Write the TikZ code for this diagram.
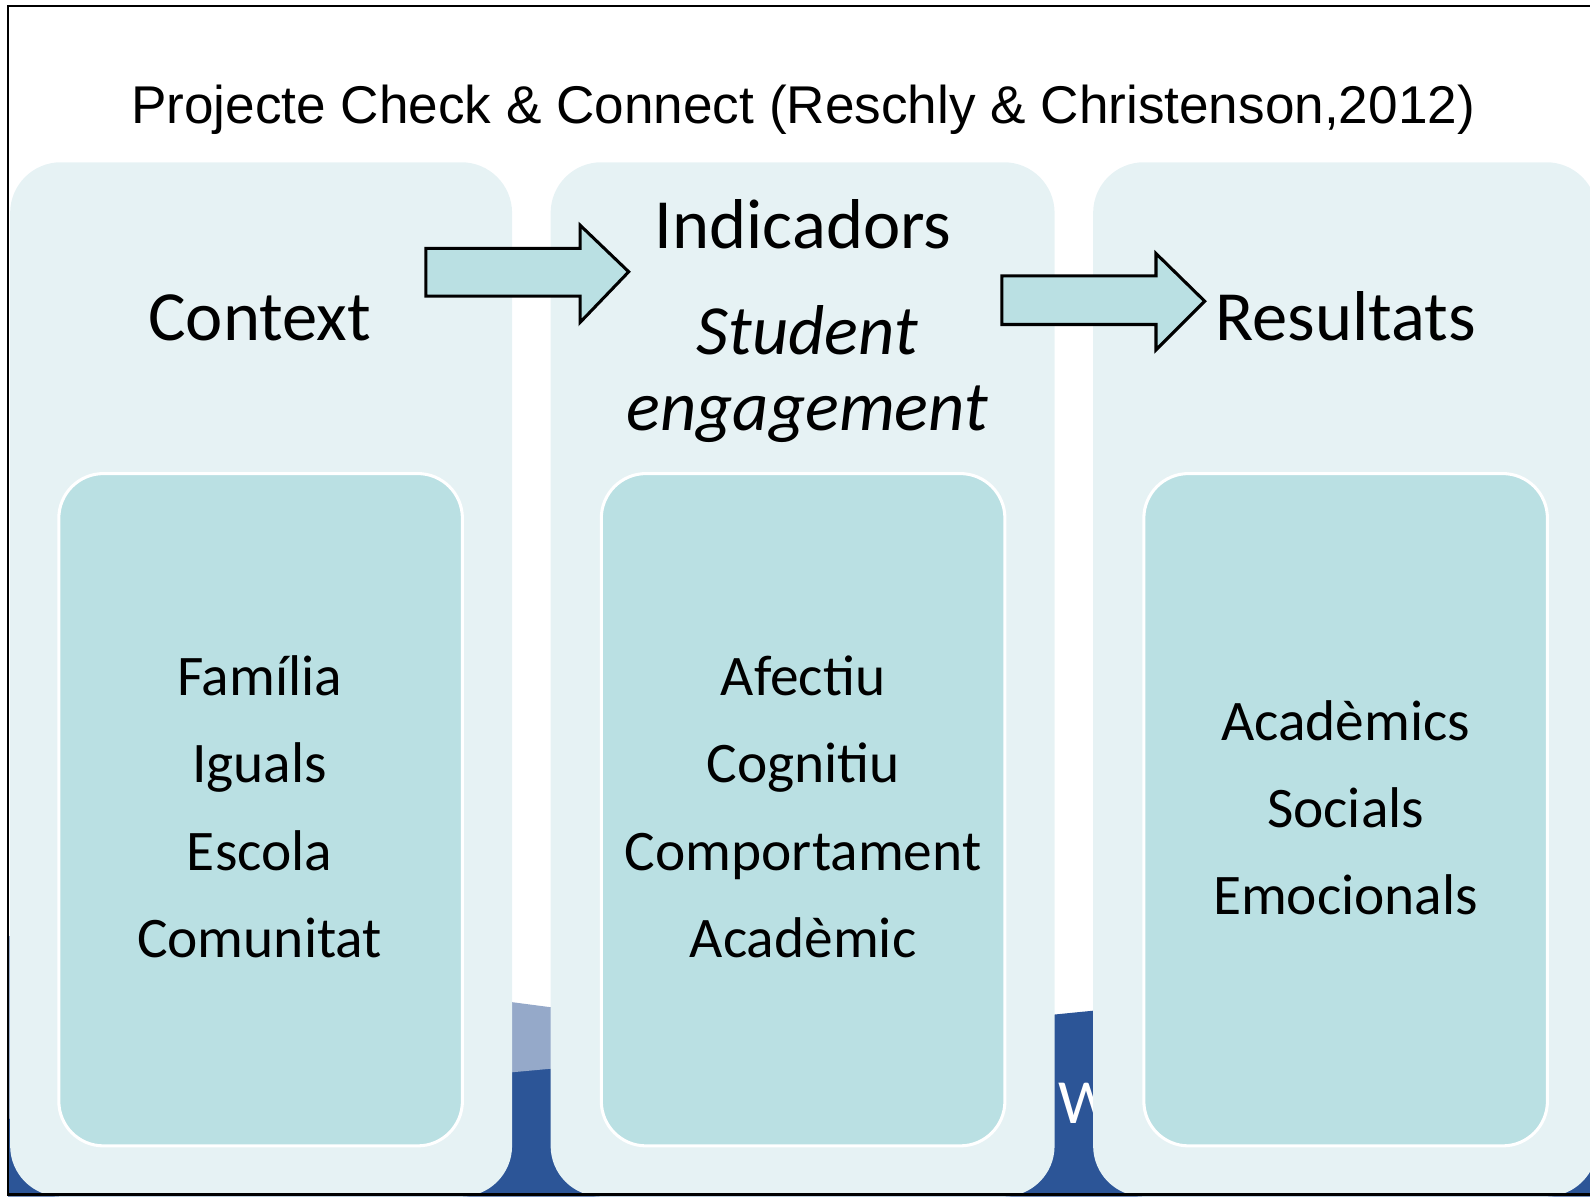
\documentclass[tikz,border=0pt]{standalone}
\usepackage{fontspec}
\setmainfont{Carlito}
\newfontfamily\titlefont{Liberation Sans}
\definecolor{panelfill}{HTML}{E6F2F4}
\definecolor{boxfill}{HTML}{BAE0E3}
\definecolor{deepblue}{HTML}{2C5597}
\definecolor{paleblue}{HTML}{95A9C9}

\begin{document}
\begin{tikzpicture}[x=0.5pt, y=-0.5pt, node distance=43pt,
                    panel/.style={rectangle,rounded corners=25pt,fill=panelfill,inner sep=0pt,minimum height=510pt},
                    inner box/.style={rectangle,rounded corners=22pt,fill=boxfill,draw=white,line width=1.5pt,
                                      inner sep=0pt,minimum width=199pt,minimum height=331.5pt},
                    head/.style={font=\fontsize{34.8}{42}\selectfont,inner sep=0pt,text height=27pt,text depth=9pt},
                    item/.style={font=\fontsize{28.3}{34}\selectfont,inner sep=0pt,text height=21pt,text depth=7pt},
                    block arrow/.style={draw=black,fill=boxfill,line width=1.5pt,line join=miter}]

  \useasboundingbox (0,0) rectangle (1568,1180);
  \clip (0,0) rectangle (1568,1180);

  % slide background peeking through
  \fill[deepblue] (8,1103) -- (1568,948) -- (1568,1180) -- (8,1180) -- cycle;
  \fill[paleblue] (8,923) -- (815,1029) -- (8,1103) -- cycle;
  \node[anchor=base west,inner sep=0pt,text=white,font=\fontsize{31}{36}\selectfont] (w) at (1043,1108) {W};

  % panels
  \node[panel,minimum width=247.5pt] (p1) at (257.5,670) {};
  \node[panel,minimum width=248.5pt] (p2) at (791.5,670) {};
  \node[panel,minimum width=248.5pt] (p3) at (1326.5,670) {};

  \node[inner box] (b1) at (257,798.5) {};
  \node[inner box] (b2) at (792,798.5) {};
  \node[inner box] (b3) at (1327,798.5) {};

  % title
  \node[anchor=base,inner sep=0pt,font=\titlefont\fontsize{26.2}{32}\selectfont] (title) at (792,122)
       {Projecte Check \& Connect (Reschly \& Christenson,2012)};

  % headings
  \node[head] (context) at (256,318) {Context};
  \node[head] (indic) at (792,227) {Indicadors};
  \node[head,font=\fontsize{34.8}{42}\selectfont\itshape] (student) at (796,332) {Student};
  \node[head,font=\fontsize{34.8}{42}\selectfont\itshape] (engage) [below of=student,node distance=37.5pt] {engagement};
  \node[head] (result) at (1327,318) {Resultats};

  % items
  \node[item] (i1) at (256,672) {Família};
  \node[item] (i2) [below of=i1] {Iguals};
  \node[item] (i3) [below of=i2] {Escola};
  \node[item] (i4) [below of=i3] {Comunitat};

  \node[item] (e1) at (792,672) {Afectiu};
  \node[item] (e2) [below of=e1] {Cognitiu};
  \node[item] (e3) [below of=e2] {Comportament};
  \node[item] (e4) [below of=e3] {Acadèmic};

  \node[item] (r1) at (1327,716) {Acadèmics};
  \node[item] (r2) [below of=r1] {Socials};
  \node[item] (r3) [below of=r2] {Emocionals};

  % arrows
  \draw[block arrow] (420,245) -- (572,245) -- (572,222) -- (620,268) -- (572,318) -- (572,292) -- (420,292) -- cycle;
  \draw[block arrow] (988,272) -- (1140,272) -- (1140,250) -- (1188,297) -- (1140,345) -- (1140,320) -- (988,320) -- cycle;

  % frame
  \draw[line width=1.2pt] (1568,6) -- (8,6) -- (8,1178) -- (1568,1178);

\end{tikzpicture}
\end{document}
